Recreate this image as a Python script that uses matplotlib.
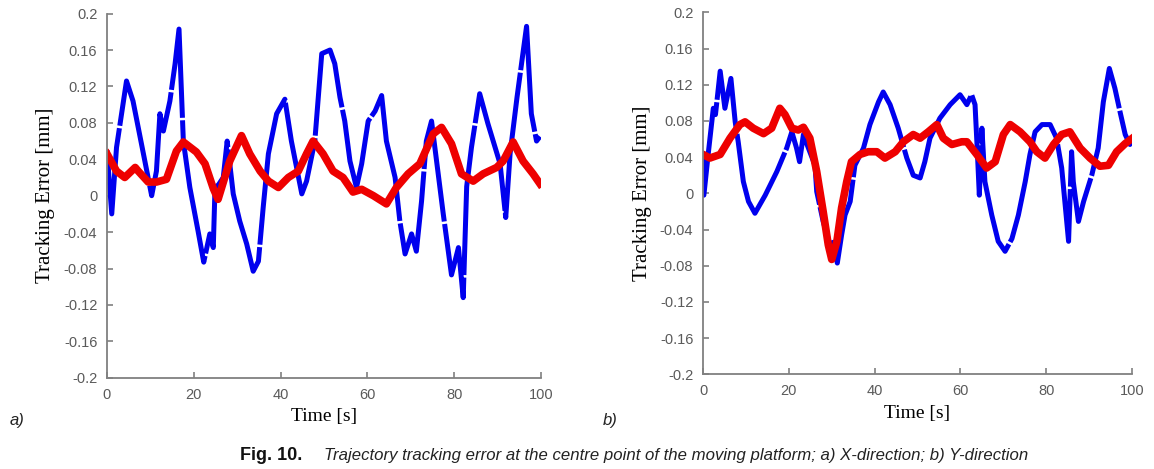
import matplotlib
matplotlib.use("Agg")
import matplotlib.pyplot as plt

# a) X-direction, blue trace
xa_blue_t = [0, 1.1, 2.2, 4.5, 6, 8.4, 10.3, 11.4, 12.2, 13, 14.5, 15.7, 16.6, 17.6, 19.1, 21, 22.3,
             23.7, 24.5, 24.9, 25.7, 26.8, 27.7, 29.1, 30.6, 32.2, 33.7, 34.9, 36, 37.2, 39.1, 41,
             42.5, 44.9, 46, 47.9, 49.5, 51.4, 52.5, 53.7, 54.8, 56, 57.5, 58.7, 60.2, 61.8, 63.3,
             64.4, 66.4, 67.5, 68.7, 70.2, 71.3, 72.5, 73.6, 74.8, 77.5, 79.4, 81, 82.1, 82.9, 84,
             85.9, 87.8, 90.6, 91.9, 92.9, 94.5, 96.7, 97.8, 99, 99.8]
xa_blue_v = [0.05, -0.02, 0.053, 0.126, 0.104, 0.046, 0.0, 0.027, 0.09, 0.071, 0.104, 0.145, 0.183,
             0.06, 0.009, -0.039, -0.073, -0.042, -0.057, 0.009, 0.012, 0.02, 0.06, 0.002, -0.028,
             -0.053, -0.083, -0.072, -0.013, 0.046, 0.09, 0.106, 0.06, 0.002, 0.016, 0.06, 0.156,
             0.16, 0.145, 0.108, 0.082, 0.038, 0.009, 0.035, 0.082, 0.093, 0.11, 0.06, 0.02,
             -0.028, -0.064, -0.042, -0.061, -0.006, 0.06, 0.082, -0.02, -0.087, -0.057, -0.112,
             0.01, 0.053, 0.112, 0.079, 0.035, -0.024, 0.046, 0.108, 0.186, 0.09, 0.06, 0.065]

# a) X-direction, red trace
xa_red_t = [0, 2.2, 4.1, 6.5, 7.2, 9.5, 11.4, 13.7, 16, 17.6, 20.6, 22.6, 24.5, 25.6, 28.3, 31,
            32.9, 35.3, 37.2, 39.5, 41.8, 44.1, 46, 47.5, 49.8, 52.1, 54.4, 56.7, 58.7, 61.4, 64.4,
            66.7, 69.4, 72.1, 75.2, 77.1, 79.4, 81.7, 84.4, 86.7, 89.8, 91.3, 93.6, 95.9, 98.2, 99.8]
xa_red_v = [0.046, 0.027, 0.02, 0.031, 0.027, 0.015, 0.015, 0.018, 0.049, 0.059, 0.048, 0.035,
            0.008, -0.004, 0.038, 0.066, 0.046, 0.027, 0.016, 0.009, 0.02, 0.027, 0.046, 0.06,
            0.046, 0.027, 0.02, 0.004, 0.007, 0.0, -0.009, 0.009, 0.024, 0.035, 0.068, 0.075,
            0.057, 0.024, 0.016, 0.024, 0.031, 0.038, 0.059, 0.038, 0.024, 0.013]

# b) Y-direction, blue trace
yb_blue_t = [0, 0.2, 1.2, 2.4, 2.9, 4, 5.1, 6.5, 7.5, 8.2, 9.4, 10.6, 12.1, 14.5, 17.2, 19.5, 20.7,
             21.8, 22.5, 23.4, 24, 26.1, 26.5, 28, 29.6, 30.4, 31.3, 32.3, 33.1, 34.3, 35.4, 37.4,
             38.9, 40.9, 42, 43.6, 45.5, 47.5, 49, 50.6, 51.7, 52.9, 55.2, 57.6, 59.9, 61.5, 62.6,
             63.4, 63.9, 64.4, 65, 65.7, 67.3, 68.8, 70.4, 72, 73.5, 75.1, 76.2, 77.4, 79, 80.9,
             82.4, 83.6, 85.2, 85.9, 86.3, 87.5, 88.7, 90.6, 92.1, 93.3, 94.7, 96, 97.2, 98.4,
             99.5, 99.8]
yb_blue_v = [0.046, -0.002, 0.043, 0.094, 0.087, 0.135, 0.094, 0.127, 0.079, 0.057, 0.013, -0.009,
             -0.022, -0.002, 0.024, 0.05, 0.068, 0.05, 0.035, 0.065, 0.057, 0.031, 0.002, -0.031,
             -0.057, -0.054, -0.077, -0.046, -0.024, -0.009, 0.031, 0.05, 0.076, 0.101, 0.112,
             0.098, 0.072, 0.039, 0.02, 0.017, 0.035, 0.061, 0.083, 0.098, 0.109, 0.098, 0.109,
             0.098, 0.05, -0.002, 0.072, 0.013, -0.024, -0.053, -0.064, -0.05, -0.024, 0.013,
             0.043, 0.068, 0.076, 0.076, 0.061, 0.028, -0.053, 0.046, 0.013, -0.031, -0.009, 0.02,
             0.05, 0.101, 0.138, 0.116, 0.09, 0.065, 0.054, 0.06]

# b) Y-direction, red trace
yb_red_t = [0, 1.6, 4, 6.3, 8.6, 9.8, 11.7, 14.1, 16, 17.9, 19.1, 20.7, 22.2, 23.4, 24.9, 26.5, 28,
            29.2, 30, 31.2, 32.3, 33.5, 34.6, 36.6, 38.5, 40.5, 42.4, 44.8, 46.7, 49, 50.6, 52.5,
            54.5, 56, 58, 60.3, 61.5, 63.8, 66.1, 68.1, 70, 71.6, 73.9, 76.2, 77.8, 79.7, 81.7,
            83.6, 85.5, 87.9, 90.2, 92.5, 94.5, 96.4, 98.4, 99.8]
yb_red_v = [0.043, 0.039, 0.043, 0.061, 0.076, 0.079, 0.072, 0.066, 0.072, 0.094, 0.087, 0.072,
            0.07, 0.073, 0.061, 0.024, -0.02, -0.057, -0.073, -0.053, -0.016, 0.013, 0.035, 0.043,
            0.046, 0.046, 0.039, 0.046, 0.057, 0.065, 0.061, 0.068, 0.076, 0.061, 0.054, 0.057,
            0.057, 0.043, 0.028, 0.035, 0.065, 0.076, 0.068, 0.057, 0.046, 0.039, 0.054, 0.065,
            0.068, 0.05, 0.039, 0.03, 0.031, 0.046, 0.055, 0.06]

yticks = [-0.2, -0.16, -0.12, -0.08, -0.04, 0, 0.04, 0.08, 0.12, 0.16, 0.2]
ytick_labels = ["-0.2", "-0.16", "-0.12", "-0.08", "-0.04", "0", "0.04", "0.08", "0.12", "0.16", "0.2"]
xticks = [0, 20, 40, 60, 80, 100]

fig = plt.figure(figsize=(11.54, 4.69), dpi=100)
ax1 = fig.add_axes([0.0927, 0.1945, 0.376, 0.7765])
ax2 = fig.add_axes([0.6092, 0.2017, 0.3718, 0.772])

panels = [(ax1, xa_blue_t, xa_blue_v, xa_red_t, xa_red_v),
          (ax2, yb_blue_t, yb_blue_v, yb_red_t, yb_red_v)]

for ax, bt, bv, rt, rv in panels:
    ax.plot(bt, bv, color="#0000ee", lw=3.6, dashes=(30, 0.5))
    ax.plot(rt, rv, color="#ee0000", lw=5.5)
    ax.set_xlim(0, 100)
    ax.set_ylim(-0.2, 0.2)
    ax.set_xticks(xticks)
    ax.set_yticks(yticks)
    ax.set_yticklabels(ytick_labels)
    for s in ["top", "right"]:
        ax.spines[s].set_visible(False)
    for s in ["left", "bottom"]:
        ax.spines[s].set_color("#808080")
        ax.spines[s].set_linewidth(1.3)
    ax.tick_params(direction="in", length=4, width=1.2, color="#808080",
                   labelcolor="#5a5a5a", labelsize=10.5, pad=7)
    for lab in ax.get_xticklabels() + ax.get_yticklabels():
        lab.set_family("Liberation Sans")
    ax.set_xlabel("Time [s]", family="Liberation Serif", fontsize=14)
    ax.set_ylabel("Tracking Error [mm]", family="Liberation Serif", fontsize=15)
    ax.xaxis.set_label_coords(0.5, -0.084)
    ax.yaxis.set_label_coords(-0.12, 0.5)

fig.text(0.008, 0.093, "a)", fontsize=12, style="italic", family="Liberation Sans", color="#222222")
fig.text(0.522, 0.093, "b)", fontsize=12, style="italic", family="Liberation Sans", color="#222222")

fig.text(0.208, 0.02, "Fig. 10.", fontsize=13, weight="bold",
         family="Liberation Sans", color="#111111")
fig.text(0.281, 0.02, "Trajectory tracking error at the centre point of the moving platform; a) X-direction; b) Y-direction",
         fontsize=12.05, style="italic", family="Liberation Sans", color="#222222")

fig.savefig("out.png", dpi=100)
